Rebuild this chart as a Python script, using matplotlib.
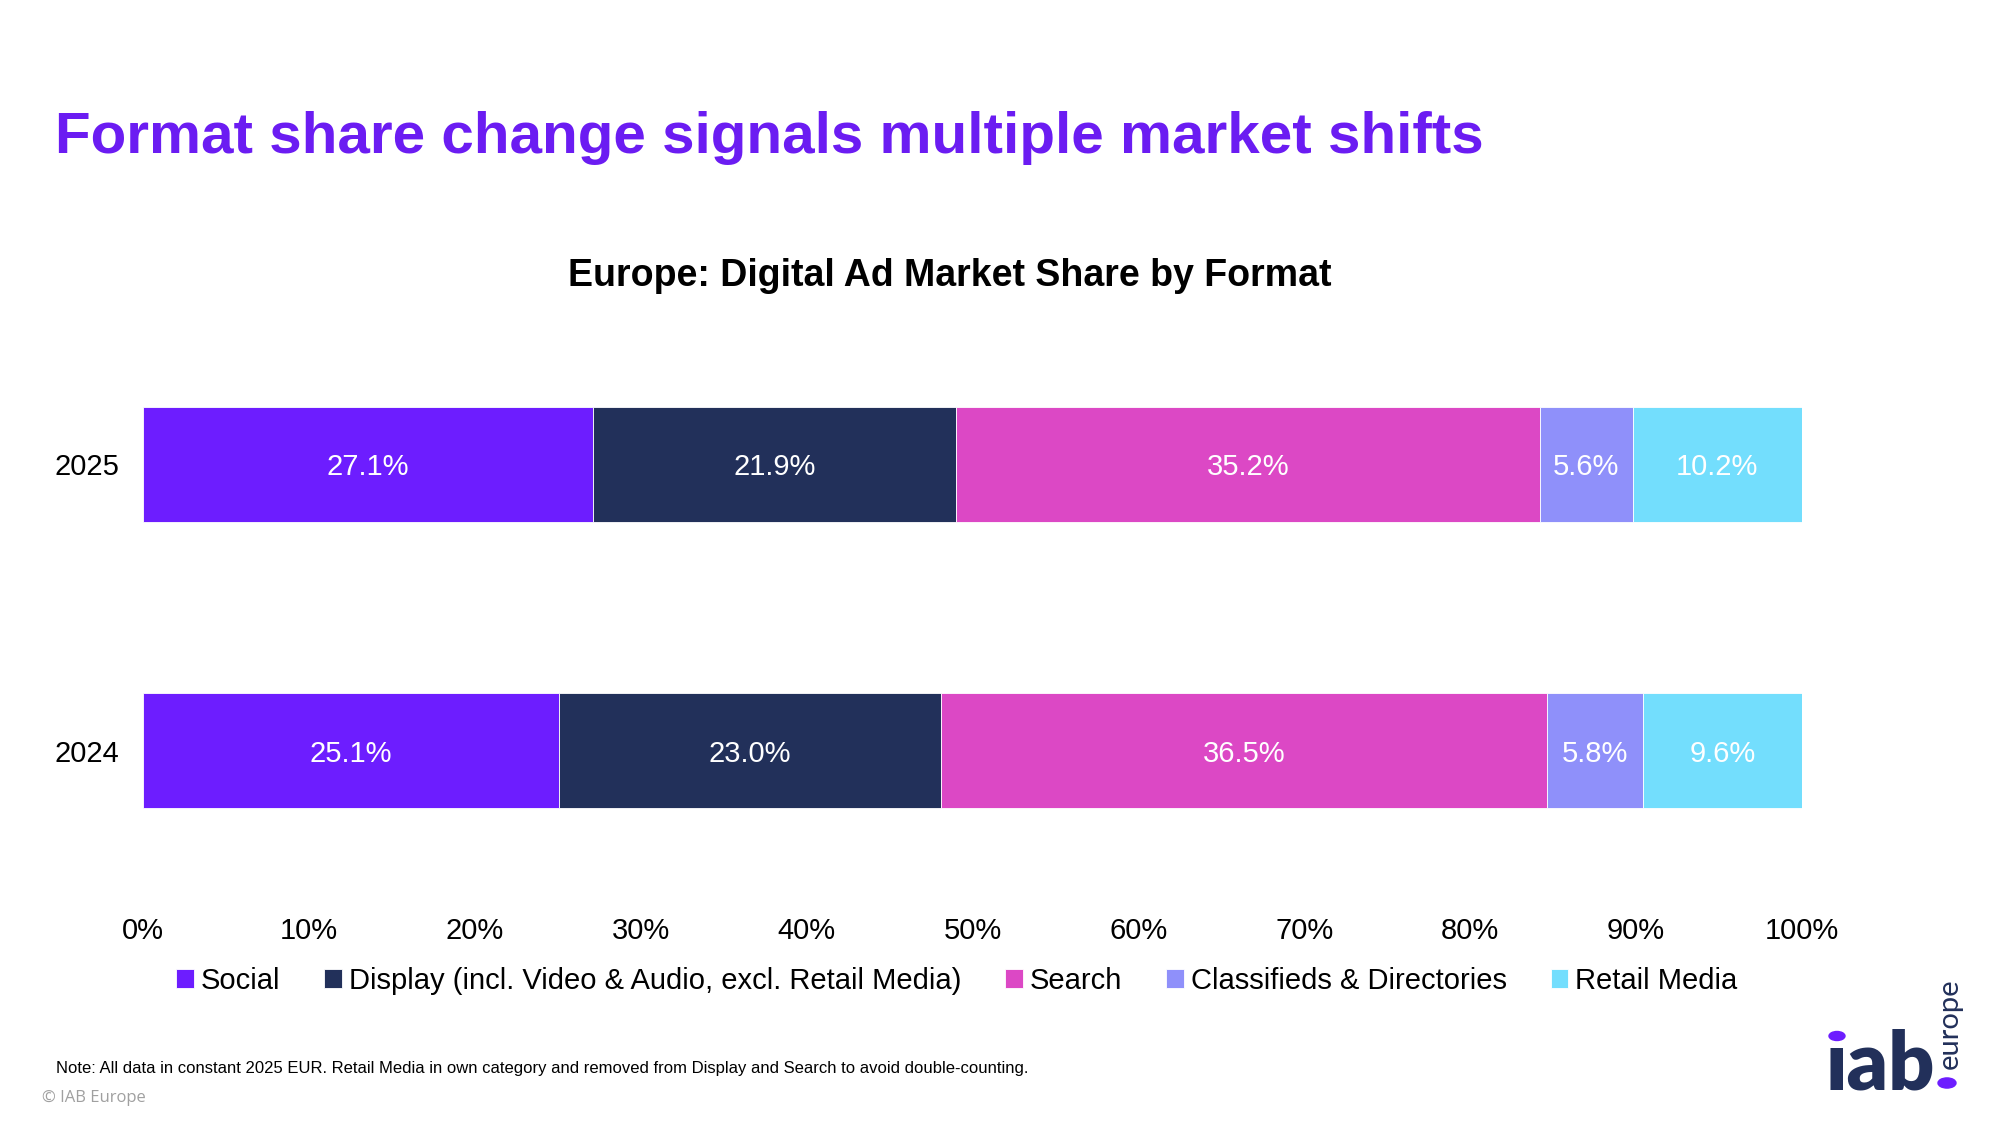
import matplotlib.pyplot as plt
from matplotlib.patches import Circle

plt.rcParams['font.family'] = ['Liberation Sans', 'DejaVu Sans']

years = ['2024', '2025']
formats = ['Social', 'Display (incl. Video & Audio, excl. Retail Media)', 'Search',
           'Classifieds & Directories', 'Retail Media']
share_2024 = [25.1, 23.0, 36.5, 5.8, 9.6]
share_2025 = [27.1, 21.9, 35.2, 5.6, 10.2]
colors = ['#6D1DFF', '#22305A', '#DC48C5', '#8F90FA', '#73DEFD']

fig = plt.figure(figsize=(20, 11.25), dpi=100)
ax = fig.add_axes([0.0715, 1 - 895 / 1125, 0.901 - 0.0715, 575 / 1125])

data = [share_2024, share_2025]
for j, name in enumerate(formats):
    vals = [d[j] for d in data]
    lefts = [sum(d[:j]) for d in data]
    bars = ax.barh(range(len(years)), vals, left=lefts, height=0.402,
                   color=colors[j], edgecolor='white', linewidth=0.6, label=name)
    for b, v in zip(bars, vals):
        ax.text(b.get_x() + b.get_width() / 2, b.get_y() + b.get_height() / 2,
                f'{v:.1f}%', ha='center', va='center_baseline', color='white',
                fontsize=21)

ax.set_xlim(0, 100)
ax.set_ylim(-0.505, 1.505)
ax.set_yticks(range(len(years)))
ax.set_yticklabels(years, fontsize=21)
ax.set_xticks(range(0, 101, 10))
ax.set_xticklabels([f'{t}%' for t in range(0, 101, 10)], fontsize=21)
ax.tick_params(axis='x', length=0, pad=16)
ax.tick_params(axis='y', length=0, pad=17)
for s in ax.spines.values():
    s.set_visible(False)

fig.legend(loc='center', bbox_to_anchor=(0.4785, 1 - 981 / 1125), ncol=5,
           frameon=False, fontsize=21, handlelength=0.6, handleheight=0.6,
           handletextpad=0.25, columnspacing=1.5)

fig.text(0.0275, 1 - 153 / 1125, 'Format share change signals multiple market shifts',
         fontsize=42, fontweight='bold', color='#6B1CF2', va='baseline')
fig.text(0.475, 1 - 276 / 1125, 'Europe: Digital Ad Market Share by Format',
         fontsize=27, fontweight='bold', ha='center', va='center')
fig.text(0.028, 1 - 1069 / 1125,
         'Note: All data in constant 2025 EUR. Retail Media in own category and removed '
         'from Display and Search to avoid double-counting.', fontsize=12, va='center')
fig.text(0.021, 1 - 1098 / 1125, '\u00a9 IAB Europe', fontsize=12, color='#A0A0A0',
         va='center', family=['Open Sans', 'DejaVu Sans'])

# logo
fig.text(1826 / 2000, 1 - 1090 / 1125, '\u0131ab', fontsize=58, fontweight='heavy',
         color='#22305A', va='baseline', family=['Lato', 'DejaVu Sans'])
fig.text(1950 / 2000, 1 - 1024 / 1125, 'europe', fontsize=21, rotation=90,
         color='#22305A', ha='center', va='center', family=['Lato', 'DejaVu Sans'])
for cx, cy, r in [(1837, 1036, 8), (1947, 1083, 9)]:
    fig.patches.append(Circle((cx / 2000, 1 - cy / 1125), r / 2000, color='#6D1DFF',
                              transform=fig.transFigure, figure=fig))

fig.savefig('out.png', dpi=100, facecolor='white')
